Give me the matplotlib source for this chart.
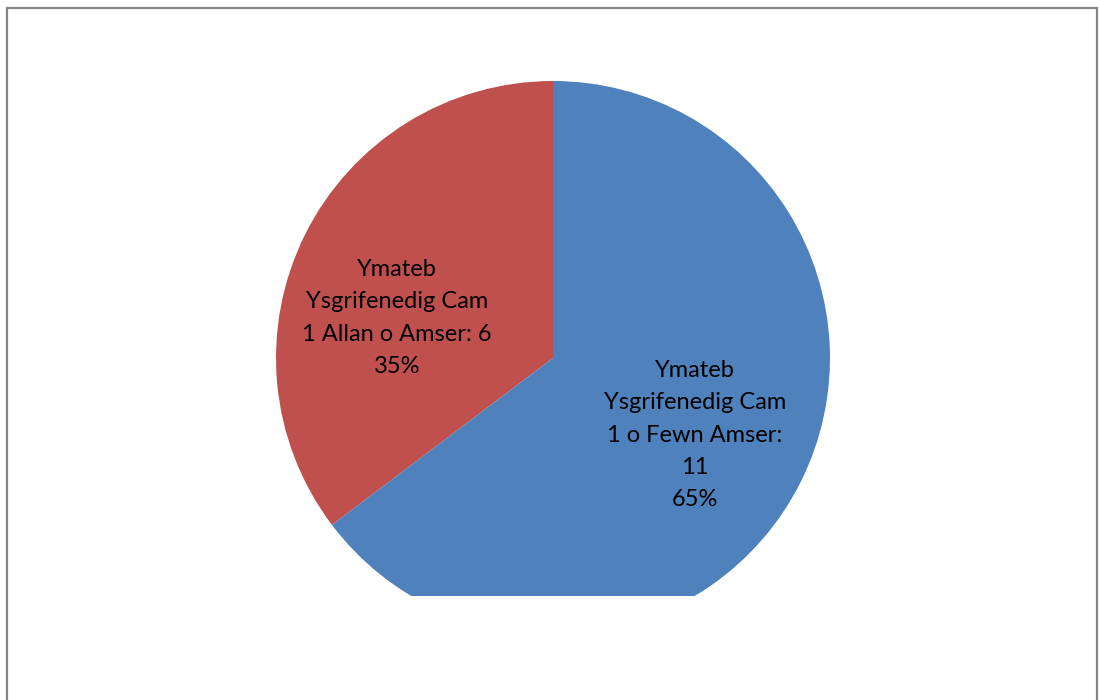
import matplotlib.pyplot as plt
from matplotlib.patches import Rectangle

plt.rcParams['font.family'] = ['Lato', 'DejaVu Sans']

# data
labels = ["Ymateb\nYsgrifenedig Cam\n1 Allan o Amser", "Ymateb\nYsgrifenedig Cam\n1 o Fewn Amser"]
values = [6, 11]
colors = ['#C0504D', '#4F81BD']

W, H = 1099, 700
fig = plt.figure(figsize=(W / 100, H / 100), dpi=100)

# border of the chart area
fig.patches.append(Rectangle((7 / W, -0.05), 1090 / W, 1.05 - 8 / H,
                             transform=fig.transFigure, fill=False,
                             edgecolor='#868686', linewidth=1.6))

# pie axes, bottom edge cuts the pie (as in the original)
ax = fig.add_axes([0, 104 / H, 1, 596 / H])

cx, cy, r = 553, H - 358, 277
wedges, _ = ax.pie(values, colors=colors, startangle=90, counterclock=True,
                   center=(cx, cy), radius=r, frame=True,
                   wedgeprops=dict(linewidth=0))
for w in wedges:
    w.set_clip_on(True)
ax.set_xlim(0, W)
ax.set_ylim(104, H)
ax.set_aspect('auto')
ax.axis('off')

total = sum(values)
label_pos = [(397, H - 318), (695, H - 435)]
for lab, v, (x, y) in zip(labels, values, label_pos):
    pct = round(100 * v / total)
    if v >= 10:
        txt = f"{lab}:\n{v}\n{pct}%"
    else:
        txt = f"{lab}: {v}\n{pct}%"
    ax.text(x, y, txt, ha='center', va='center', fontsize=17,
            linespacing=1.66, color='black')

fig.savefig('out.png', dpi=100)
